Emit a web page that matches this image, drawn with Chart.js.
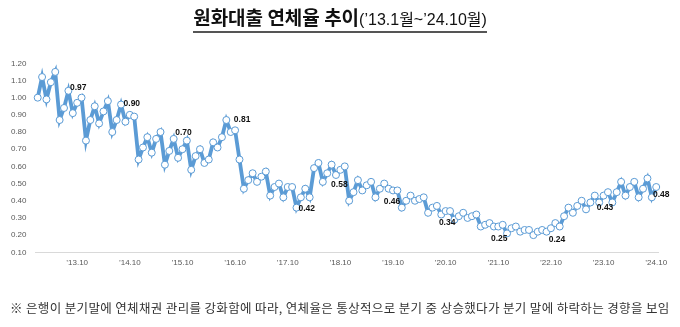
<!DOCTYPE html>
<html><head><meta charset="utf-8">
<script src="https://cdn.jsdelivr.net/npm/chart.js@4.4.1/dist/chart.umd.min.js"></script>
<style>
html,body{margin:0;padding:0;background:#fff;}
#wrap{position:relative;width:680px;height:327px;overflow:hidden;background:#fff;}
#c{position:absolute;left:0;top:0;}
#title{position:absolute;left:0;top:6px;width:680px;text-align:center;white-space:nowrap;color:#111;}
#title .inner{display:inline-block;border-bottom:2px solid #555;line-height:22px;padding-bottom:0px;}
#title .main{font-family:"Noto Sans CJK KR";font-weight:bold;font-size:19px;}
#title .sub{font-family:"Liberation Sans","Noto Sans CJK KR";font-size:16px;}
#note{position:absolute;left:10px;top:298px;font-family:"Noto Sans CJK KR";font-size:12.5px;letter-spacing:0.35px;color:#333;white-space:nowrap;}
</style></head>
<body><div id="wrap"><canvas id="c" width="680" height="327"></canvas>
<div id="title"><span class="inner"><span class="main">원화대출 연체율 추이</span><span class="sub">(’13.1월~’24.10월)</span></span></div>
<div id="note">※ 은행이 분기말에 연체채권 관리를 강화함에 따라, 연체율은 통상적으로 분기 중 상승했다가 분기 말에 하락하는 경향을 보임</div>
</div>
<script>
// ---- data (monthly delinquency rate, %) ----
const years = [2013,2014,2015,2016,2017,2018,2019,2020,2021,2022,2023,2024];
const v2013 = [1.00,1.12,0.99,1.09,1.15,0.87,0.94,1.04,0.91,0.97,1.00,0.75];
const v2014 = [0.87,0.95,0.85,0.92,0.98,0.80,0.87,0.96,0.86,0.90,0.89,0.64];
const v2015 = [0.71,0.77,0.68,0.76,0.80,0.61,0.69,0.76,0.65,0.70,0.75,0.58];
const v2016 = [0.66,0.70,0.62,0.64,0.74,0.71,0.77,0.87,0.80,0.81,0.64,0.47];
const v2017 = [0.52,0.56,0.51,0.54,0.57,0.43,0.48,0.50,0.42,0.48,0.48,0.36];
const v2018 = [0.42,0.47,0.42,0.59,0.62,0.51,0.56,0.61,0.55,0.58,0.60,0.40];
const v2019 = [0.45,0.52,0.46,0.49,0.51,0.42,0.47,0.50,0.47,0.46,0.46,0.36];
const v2020 = [0.40,0.43,0.40,0.41,0.42,0.33,0.36,0.37,0.32,0.34,0.34,0.29];
const v2021 = [0.31,0.33,0.30,0.31,0.32,0.25,0.26,0.27,0.25,0.25,0.26,0.21];
const v2022 = [0.24,0.25,0.22,0.23,0.23,0.20,0.22,0.23,0.22,0.24,0.27,0.25];
const v2023 = [0.31,0.36,0.33,0.37,0.40,0.35,0.39,0.43,0.39,0.43,0.45,0.39];
const v2024 = [0.45,0.51,0.43,0.48,0.51,0.42,0.47,0.53,0.42,0.48];
const yearSeries = [v2013,v2014,v2015,v2016,v2017,v2018,v2019,v2020,v2021,v2022,v2023,v2024];
const tickLabels = ["’13.10","’14.10","’15.10","’16.10","’17.10","’18.10","’19.10","’20.10","’21.10","’22.10","’23.10","’24.10"];
const dataLabels = ["0.97","0.90","0.70","0.81","0.42","0.58","0.46","0.34","0.25","0.24","0.43","0.48"];

// ---- build category list / series from the arrays ----
const categories = [];
const values = [];
const octIndex = [];
yearSeries.forEach((arr, yi) => {
  arr.forEach((v, mi) => {
    if (mi === 9) octIndex.push(categories.length);
    categories.push(String(years[yi]).slice(2) + '.' + (mi + 1));
    values.push(v);
  });
});

// label placement (style only): offset from the labelled point, pixels
const labelOffsets = [[1,-15],[2,-11],[1,-17],[7,-11],[19,22],[-1,15],[-1,11.5],[1.5,12],[1,12.5],[6,11],[1.5,12.5],[5,8]];

const labelPlugin = {
  id: 'octLabels',
  afterDatasetsDraw(chart) {
    const meta = chart.getDatasetMeta(0);
    const ctx = chart.ctx;
    ctx.save();
    ctx.font = 'bold 8.5px "Liberation Sans", Arial, sans-serif';
    ctx.fillStyle = '#111';
    ctx.textAlign = 'center';
    ctx.textBaseline = 'middle';
    octIndex.forEach((idx, k) => {
      const p = meta.data[idx];
      if (!p) return;
      const off = labelOffsets[k];
      ctx.fillText(dataLabels[k], p.x + off[0], p.y + off[1]);
    });
    ctx.restore();
  }
};

const tickFont = {family: '"Liberation Sans", Arial, sans-serif', size: 8};

new Chart(document.getElementById('c').getContext('2d'), {
  type: 'line',
  data: {
    labels: categories,
    datasets: [{
      data: values,
      borderColor: '#5B9BD5',
      borderWidth: 3.8,
      tension: 0,
      pointRadius: 3.5,
      pointBackgroundColor: '#ffffff',
      pointBorderColor: '#5B9BD5',
      pointBorderWidth: 1,
      clip: false
    }]
  },
  options: {
    responsive: false,
    animation: false,
    devicePixelRatio: 1,
    layout: {padding: {left: 0, right: 21.6, top: 63.3, bottom: 0}},
    plugins: {legend: {display: false}, tooltip: {enabled: false}, title: {display: false}},
    scales: {
      x: {
        type: 'category',
        offset: true,
        grid: {display: false, drawTicks: false},
        border: {display: true, color: '#d9d9d9', width: 1},
        ticks: {
          autoSkip: false, maxRotation: 0, minRotation: 0, padding: 6,
          font: tickFont, color: '#595959',
          callback: (v, i) => {
            const k = octIndex.indexOf(i);
            return k >= 0 ? tickLabels[k] : '';
          }
        },
        afterFit: s => { s.height = 74.7; }
      },
      y: {
        min: 0.1, max: 1.2,
        grid: {display: false, drawTicks: false},
        border: {display: false},
        ticks: {stepSize: 0.1, padding: 9, font: tickFont, color: '#595959', callback: v => Number(v).toFixed(2)},
        afterFit: s => { s.width = 35.5; }
      }
    }
  },
  plugins: [labelPlugin]
});
</script>
</body></html>
